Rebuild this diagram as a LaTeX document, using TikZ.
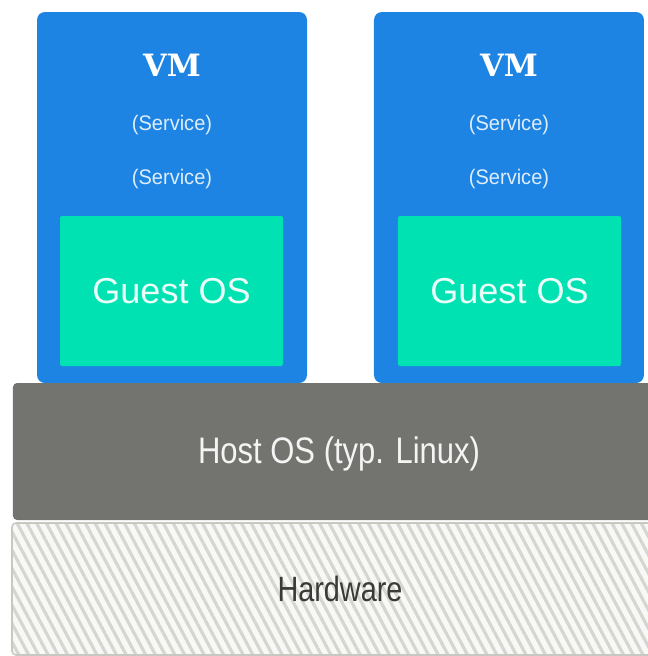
\documentclass[tikz,border=0pt]{standalone}
\usepackage{fontspec}
\usetikzlibrary{positioning,patterns.meta}

\newfontfamily\slabfont{DejaVu Serif}
\newfontfamily\guestfont{Liberation Sans}
\newfontfamily\servfont[FakeStretch=0.95]{Liberation Sans}
\newfontfamily\condfont[FakeStretch=0.84]{Liberation Sans}
\newfontfamily\hwfont[FakeStretch=0.82]{Liberation Sans}

\definecolor{vmblue}{HTML}{1E84E3}
\definecolor{guestgreen}{HTML}{00E2B2}
\definecolor{hostgray}{HTML}{737370}
\definecolor{hwfill}{HTML}{F8F8F6}
\definecolor{hwline}{HTML}{D6D6D1}
\definecolor{hwborder}{HTML}{C8C8C3}
\definecolor{hwtext}{HTML}{3A3A38}

\tikzset{
  vmbox/.style={anchor=north west, fill=vmblue, rounded corners=0.16cm, outer sep=0, inner sep=0, minimum width=5.4cm, minimum height=7.42cm},
  guestbox/.style={anchor=north west, fill=guestgreen, rounded corners=0.04cm, outer sep=0, inner sep=0, minimum width=4.46cm, minimum height=3cm, text=white!92!guestgreen, font=\guestfont\fontsize{20.5}{24}\selectfont},
  vmtitle/.style={text=white, inner sep=0, font=\slabfont\bfseries\fontsize{17.5}{21}\selectfont},
  service/.style={text=white!85!vmblue, inner sep=0, font=\servfont\fontsize{12}{14}\selectfont},
  layerbox/.style={anchor=north west, rounded corners=0.08cm, outer sep=0, inner sep=0, minimum width=12.94cm},
  layertext/.style={inner sep=0, font=\condfont\fontsize{21}{25}\selectfont}
}

\begin{document}
\begin{tikzpicture}
        \useasboundingbox (0,0) rectangle (12.96,-13.12);

        % virtual machines
        \draw (0.74,-0.24) node[vmbox] (vm-l) {};
        \draw (7.48,-0.24) node[vmbox] (vm-r) {};

        \draw (vm-l.north west) ++(0.46,-4.08) node[guestbox] (guest-l) {Guest OS};
        \draw (vm-r.north west) ++(0.48,-4.08) node[guestbox] (guest-r) {Guest OS};

        \path (vm-l.north) ++(0,-1.06) node[vmtitle] (vm-l-title) {VM};
        \path (vm-l.north) ++(0,-2.26) node[service] (vm-l-srv1) {(Service)};
        \path (vm-l.north) ++(0,-3.34) node[service] (vm-l-srv2) {(Service)};

        \path (vm-r.north) ++(0,-1.06) node[vmtitle] (vm-r-title) {VM};
        \path (vm-r.north) ++(0,-2.26) node[service] (vm-r-srv1) {(Service)};
        \path (vm-r.north) ++(0,-3.34) node[service] (vm-r-srv2) {(Service)};

        % host and hardware
        \draw (0.26,-7.66) node[layerbox, fill=hostgray, minimum height=2.74cm] (host) {};
        \path (host.west) ++(6.52,-0.04) node[layertext, text=white!92!hostgray] (host-text) {Host OS (typ. Linux)};

        \draw (0.24,-10.46) node[layerbox, draw=hwborder, line width=0.9pt, preaction={fill=hwfill}, pattern={Lines[angle=-62, distance=4.9pt, line width=1.8pt]}, pattern color=hwline, minimum height=2.64cm] (hw) {};
        \path (hw.west) ++(6.56,0.0) node[layertext, text=hwtext, font=\hwfont\fontsize{20}{24}\selectfont] (hw-text) {Hardware};
      \end{tikzpicture}
\end{document}
